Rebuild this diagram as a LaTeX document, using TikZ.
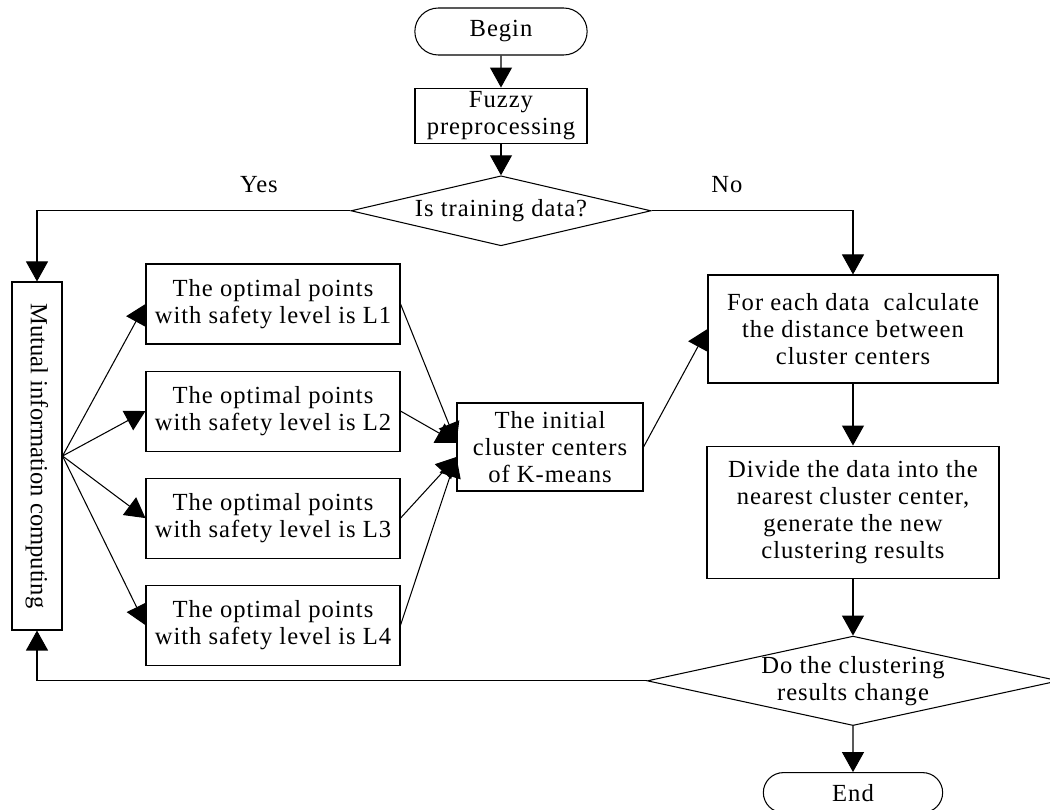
\documentclass[tikz,border=0pt]{standalone}
\usepackage{fontspec}
\setmainfont{Liberation Serif}[LetterSpace=4]
\newfontfamily\plainserif{Liberation Serif}
\usetikzlibrary{shapes.geometric, shapes.misc, arrows.meta, positioning}

\begin{document}
\begin{tikzpicture}[
    font=\fontsize{14}{15.5}\selectfont,
    line width=0.6pt,
    box/.style={rectangle, draw, align=center, inner sep=2pt},
    optbox/.style={box, minimum width=5.08cm, minimum height=1.6cm},
    term/.style={rounded rectangle, draw, minimum height=0.94cm, minimum width=3.68cm},
    decision/.style={diamond, draw, align=center, inner sep=0pt},
    arrow/.style={-{Triangle[length=0.4cm, width=0.44cm]}}
]
\useasboundingbox (0,0) rectangle (21,-16.2);

% Top of the flow
\node[term] (begin) at (10.02,-0.63) {Begin};
\node[box, minimum width=3.44cm, minimum height=1cm, below=0.64cm of begin] (fuzzy) {Fuzzy\\preprocessing};
\node[decision, aspect=4.3, minimum width=6cm, minimum height=1.4cm, below=0.62cm of fuzzy] (train) {Is training data?};

% Training branch
\node[box, minimum width=1cm, minimum height=6.96cm] (mutual) at (0.74,-9.12) {\rotatebox{-90}{\plainserif Mutual information computing}};
\node[optbox] (l1) at (5.46,-6.08) {The optimal points\\with safety level is L1};
\node[optbox, below=0.52cm of l1] (l2) {The optimal points\\with safety level is L2};
\node[optbox, below=0.52cm of l2] (l3) {The optimal points\\with safety level is L3};
\node[optbox, below=0.52cm of l3] (l4) {The optimal points\\with safety level is L4};
\node[box, minimum width=3.72cm, minimum height=1.76cm] (kmeans) at (11,-8.94) {The initial\\cluster centers\\of K-means};

% Clustering loop
\node[box, minimum width=5.8cm, minimum height=2.16cm] (calc) at (17.06,-6.58) {For each data~ calculate\\the distance between\\cluster centers};
\node[box, minimum width=5.84cm, minimum height=2.64cm, below=1.24cm of calc] (divide) {Divide the data into the\\nearest cluster center,\\generate the new\\clustering results};
\node[decision, aspect=4.6, minimum width=8.1cm, minimum height=1.76cm, below=1.14cm of divide] (change) {Do the clustering\\results change};
\node[term, minimum height=0.8cm, minimum width=3.82cm, below=0.92cm of change] (end) {End};

% Connecting arrows
\draw[arrow] (begin) -- (fuzzy);
\draw[arrow] (fuzzy) -- (train);
\draw[arrow] (train.west) -| node[pos=0.146, above=0.36cm, inner sep=0pt] {Yes} (mutual.north);
\draw[arrow] (train.east) -| node[pos=0.187, above=0.36cm, inner sep=0pt] {No} (calc.north);

\foreach \n in {l1,l2,l3,l4}
    \draw[arrow] (mutual.east) -- (\n.west);

\draw[arrow] (l1.east) -- ([yshift=0.08cm]kmeans.west);
\draw[arrow] (l2.east) -- ([yshift=0.08cm]kmeans.west);
\draw[arrow] (l3.east) -- ([yshift=-0.2cm]kmeans.west);
\draw[arrow] (l4.east) -- ([yshift=-0.2cm]kmeans.west);

\draw[arrow] (kmeans.east) -- (calc.west);
\draw[arrow] (calc) -- (divide);
\draw[arrow] (divide) -- (change);
\draw[arrow] (change.west) -| (mutual.south);
\draw[arrow] (change) -- (end);

\end{tikzpicture}
\end{document}
